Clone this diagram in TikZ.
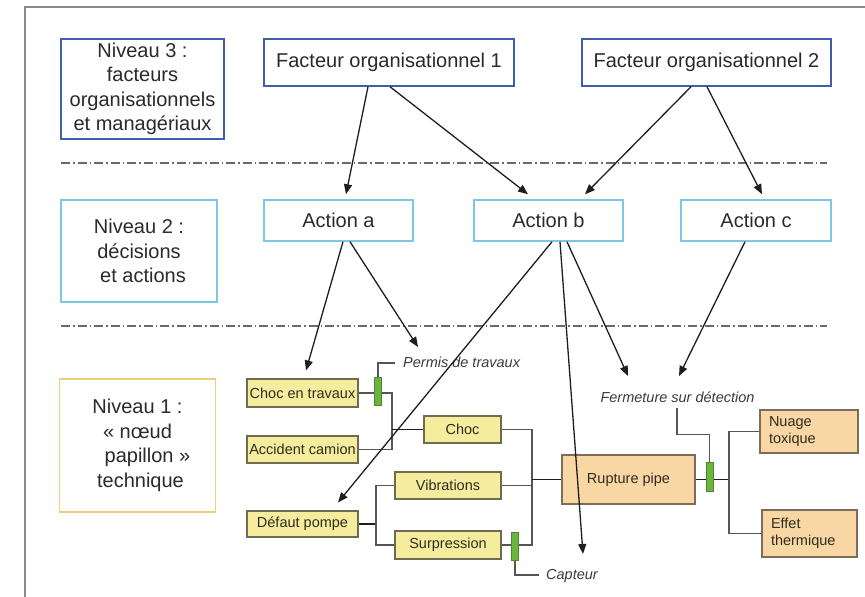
\documentclass[tikz,border=0pt]{standalone}
\usepackage{fontspec}
\setmainfont{Liberation Sans}
\usetikzlibrary{arrows.meta,calc,backgrounds}
\definecolor{txt}{HTML}{2A2A2A}
\definecolor{txtb}{HTML}{2E2C1E}
\definecolor{navyb}{HTML}{3F5EAE}
\definecolor{skyb}{HTML}{7FC6E2}
\definecolor{goldb}{HTML}{EAD27A}
\definecolor{yfill}{HTML}{F6EC9E}
\definecolor{ybord}{HTML}{6E6C50}
\definecolor{ofill}{HTML}{F8D7A4}
\definecolor{obord}{HTML}{7E6C5A}
\definecolor{gfill}{HTML}{6DB33F}
\definecolor{gbord}{HTML}{4A8A2A}
\definecolor{linkc}{HTML}{555555}
\definecolor{arrc}{HTML}{1E1E1E}
\definecolor{sepc}{HTML}{6A6A6A}
\definecolor{framec}{HTML}{8A8A8A}
\definecolor{notec}{HTML}{3A3A3A}
\tikzset{
  bigtxt/.style={text=txt, font=\fontsize{20}{24.5}\selectfont, align=center, inner sep=0pt},
  lvlthree/.style={bigtxt, draw=navyb, line width=1.5pt, fill=white},
  lvltwo/.style={bigtxt, draw=skyb, line width=1.5pt, fill=white},
  lvlone/.style={bigtxt, draw=goldb, line width=1.5pt, fill=white},
  ybox/.style={draw=ybord, fill=yfill, line width=1.1pt, inner sep=0pt, text=txtb,
    font=\fontsize{14.5}{17}\selectfont, minimum height=27pt},
  obox/.style={draw=obord, fill=ofill, line width=1.1pt, inner sep=0pt, text=txtb,
    font=\fontsize{14.5}{17.5}\selectfont},
  barrier/.style={draw=gbord, fill=gfill, line width=0.8pt, minimum width=7pt,
    minimum height=28pt, inner sep=0pt},
  link/.style={draw=linkc, line width=1.1pt},
  linkd/.style={draw=arrc, line width=1.3pt},
  arr/.style={draw=arrc, line width=1.3pt, -{Triangle[length=10pt,width=8pt]}},
  sepline/.style={draw=sepc, line width=1.6pt, dash pattern=on 9pt off 3pt on 1.5pt off 3pt},
  note/.style={font=\itshape\fontsize{14.5}{17}\selectfont, text=notec, inner sep=0pt,
    text height=11pt, text depth=3pt},
}
\begin{document}
\begin{tikzpicture}[x=1pt,y=-1pt]
\useasboundingbox (0,0) rectangle (865,597);
% frame
\draw[framec, line width=1.3pt] (25,597) -- (25,7) -- (865,7);
% separators
\coordinate (s1a) at (61,163); \coordinate (s1b) at (827,163);
\coordinate (s2a) at (61,326); \coordinate (s2b) at (827,326);
\draw[sepline] (s1a) -- (s1b);
\draw[sepline] (s2a) -- (s2b);

% level labels
\node[lvlthree, minimum width=163pt, minimum height=100pt] (niv3) at (142.5,89)
  {Niveau 3 :\\facteurs\\organisationnels\\et managériaux};
\node[lvltwo, minimum width=156pt, minimum height=102pt] (niv2) at (139,251)
  {Niveau 2 :\\décisions\\\hspace*{8pt}et actions};
\node[lvlone, minimum width=156pt, minimum height=133pt] (niv1) at (137.5,445.5)
  {Niveau 1 :\\« nœud\hspace*{14pt}\\\hspace*{20pt}papillon »\\\hspace*{6pt}technique};

% level 3 / 2 nodes
\node[lvlthree, minimum width=250pt, minimum height=47pt] (f1) at (389,62.5) {Facteur organisationnel 1};
\node[lvlthree, minimum width=249pt, minimum height=47pt] (f2) at (706.5,62.5) {Facteur organisationnel 2};
\node[lvltwo, minimum width=149pt, minimum height=41pt] (aa) at (338.5,220.5) {Action a};
\node[lvltwo, minimum width=149pt, minimum height=41pt] (ab) at (548.5,220.5) {Action b};
\node[lvltwo, minimum width=150pt, minimum height=41pt] (ac) at (756,220.5) {Action c};

% level 1 nodes
\node[ybox, minimum width=111pt, minimum height=28pt] (cet) at (302.5,393) {Choc en travaux};
\node[ybox, minimum width=111pt] (acc) at (302.5,449.5) {Accident camion};
\node[ybox, minimum width=111pt, minimum height=26pt] (dp) at (302.5,524) {Défaut pompe};
\node[ybox, minimum width=77pt] (choc) at (462.5,429.5) {Choc};
\node[ybox, minimum width=106pt] (vib) at (448,485.5) {Vibrations};
\node[ybox, minimum width=106pt, minimum height=28pt] (sur) at (448,545) {Surpression};
\node[obox, minimum width=133pt, minimum height=49pt] (rp) at (628.5,479.5) {Rupture pipe};
\node[obox, text width=80pt, align=left, inner xsep=9pt, minimum height=43pt] (nt) at (809,431.5) {Nuage\\toxique};
\node[obox, text width=77pt, align=left, inner xsep=9pt, minimum height=47pt] (et) at (809.5,533.5) {Effet\\thermique};

\node[barrier] (b1) at (378,391) {};
\node[barrier] (b2) at (515,546) {};
\node[barrier, minimum height=29pt] (b3) at (709.5,476.5) {};

\node[note, anchor=west] (permis) at (403,363) {Permis de travaux};
\node[note] (ferm) at (677.5,398) {Fermeture sur détection};
\node[note, anchor=west] (capteur) at (546,575) {Capteur};

% junctions
\coordinate (j1) at (392,429.5);
\coordinate (j2) at (376,524);
\coordinate (j3) at (532,479.5);
\coordinate (j4) at (729,479.5);

\begin{pgfonlayer}{background}
\draw[link] (cet.east) -| (j1);
\draw[link] (acc.east) -| (j1);
\draw[linkd] (j1) -- (choc.west);
\draw[link] (b1.north) |- ($(permis.west)+(-8,0)$);
\draw[linkd] (dp.east) -- (j2);
\draw[link] (vib.west) -| (j2);
\draw[link] (sur.west) -| (j2);
\draw[link] (choc.east) -| (j3);
\draw[link] (vib.east) -| (j3);
\draw[link] (sur.east) -| (j3);
\draw[linkd] (j3) -- (rp.west);
\draw[link] (b2.south) |- ($(capteur.west)+(-7,0)$);
\draw[linkd] (rp.east) -- (j4);
\draw[link] (nt.west) -| (j4);
\draw[link] (et.west) -| (j4);
\draw[link] ($(ferm.center)+(-0.5,10)$) |- ($(b3.north)+(0,-27)$) -- (b3.north);
\end{pgfonlayer}

% arrows
\draw[arr] ($(f1.south)+(-21,0)$) -- ($(aa.north)+(7.5,-5)$);
\draw[arr] ($(f1.south)+(1,0)$) -- ($(ab.north)+(-20.5,-5)$);
\draw[arr] ($(f2.south)+(-15.5,0)$) -- ($(ab.north)+(36.5,-5)$);
\draw[arr] ($(f2.south)+(0.5,0)$) -- ($(ac.north)+(6,-5)$);
\draw[arr] ($(aa.south)+(4.5,0)$) -- ($(cet.north)+(3.5,-8)$);
\draw[arr] ($(aa.south)+(11.5,0)$) -- ($(permis.west)+(15,-16)$);
\draw[arr] ($(ab.south)+(3.5,0)$) -- ($(dp.north)+(35.5,-8)$);
\draw[arr] ($(ab.south)+(11.5,0)$) -- ($(capteur.west)+(37,-21)$);
\draw[arr] ($(ab.south)+(18.5,0)$) -- ($(ferm.center)+(-49.5,-22)$);
\draw[arr] ($(ac.south)+(-11,0)$) -- ($(ferm.center)+(1.5,-22)$);
\end{tikzpicture}
\end{document}
